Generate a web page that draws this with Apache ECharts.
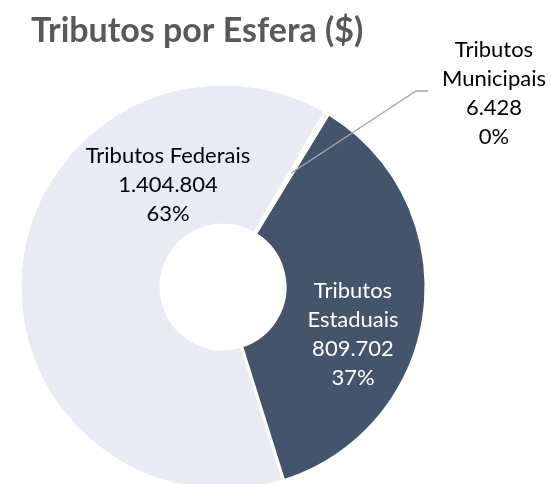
<!DOCTYPE html>
<html>
<head>
<meta charset="utf-8">
<script src="https://cdn.jsdelivr.net/npm/echarts@6/dist/echarts.min.js"></script>
<style>
    html, body { margin: 0; padding: 0; background: #fff; }
    #chart { width: 551px; height: 484px; }
</style>
</head>
<body>
<div id="chart"></div>
<script>
    // dados (ordem anti-horária a partir da borda superior direita)
    const categories = ['Tributos Federais', 'Tributos Estaduais', 'Tributos Municipais'];
    const values = [1404804, 809702, 6428];
    const colors = ['#E8EAF4', '#44546A', '#D9D9D9'];
    const labelColors = ['#000000', '#ffffff', '#000000'];

    const CX = 223, CY = 287, R_IN = 62, R_OUT = 203;
    const START = 30.3; // graus, sentido horário a partir do topo (fim da fatia federal)

    const total = values.reduce((a, b) => a + b, 0);
    const fmt = v => String(v).replace(/\B(?=(\d{3})+(?!\d))/g, '.');

    // ponto médio da fatia municipal (início da linha guia)
    const muniMid = (START + 360 * values[2] / total / 2) * Math.PI / 180;
    const rMid = (R_IN + R_OUT) / 2;
    const lineStart = [CX + rMid * Math.sin(muniMid), CY - rMid * Math.cos(muniMid)];

    const labelPos = [
        { x: 168, y: 185 },
        { x: 353, y: 334 },
        { x: 494, y: 93 }
    ];

    const base = {
        type: 'pie',
        center: [CX, CY],
        radius: [R_IN, R_OUT],
        startAngle: 90 - START,
        clockwise: false,
        percentPrecision: 0,
        avoidLabelOverlap: false,
        emphasis: { disabled: true }
    };

    const chart = echarts.init(document.getElementById('chart'));
    chart.setOption({
        backgroundColor: '#fff',
        animation: false,
        title: {
            text: 'Tributos por Esfera ($)',
            left: 31, top: 14, padding: 0,
            textStyle: { fontFamily: 'Lato', fontWeight: 'bold', fontSize: 34, color: '#595959' }
        },
        series: [
            // fatias
            Object.assign({}, base, {
                z: 2,
                itemStyle: { borderColor: '#fff', borderWidth: 3 },
                label: { show: false },
                labelLine: { show: false },
                data: categories.map((name, i) => ({
                    name: name, value: values[i], itemStyle: { color: colors[i] }
                }))
            }),
            // rótulos por cima (a linha guia fica visível sobre a fatia escura)
            Object.assign({}, base, {
                z: 5,
                silent: true,
                itemStyle: { color: 'rgba(0,0,0,0)', borderWidth: 0 },
                label: {
                    fontFamily: 'Lato', fontSize: 22, lineHeight: 29, align: 'center',
                    formatter: p => (p.dataIndex === 0 ? p.name : p.name.replace(' ', '\n')) +
                        '\n' + fmt(p.value) + '\n' + p.percent + '%'
                },
                labelLine: { lineStyle: { color: '#A6A6A6', width: 1.3 } },
                labelLayout: p => {
                    const pos = labelPos[p.dataIndex];
                    const out = { x: pos.x, y: pos.y, align: 'center', verticalAlign: 'middle' };
                    if (p.dataIndex === 2) {
                        out.labelLinePoints = [lineStart, [416, 91], [428, 91]];
                    }
                    return out;
                },
                data: categories.map((name, i) => ({
                    name: name,
                    value: values[i],
                    label: { position: i === 2 ? 'outside' : 'inside', color: labelColors[i] },
                    labelLine: { show: i === 2 }
                }))
            })
        ]
    });
</script>
</body>
</html>
